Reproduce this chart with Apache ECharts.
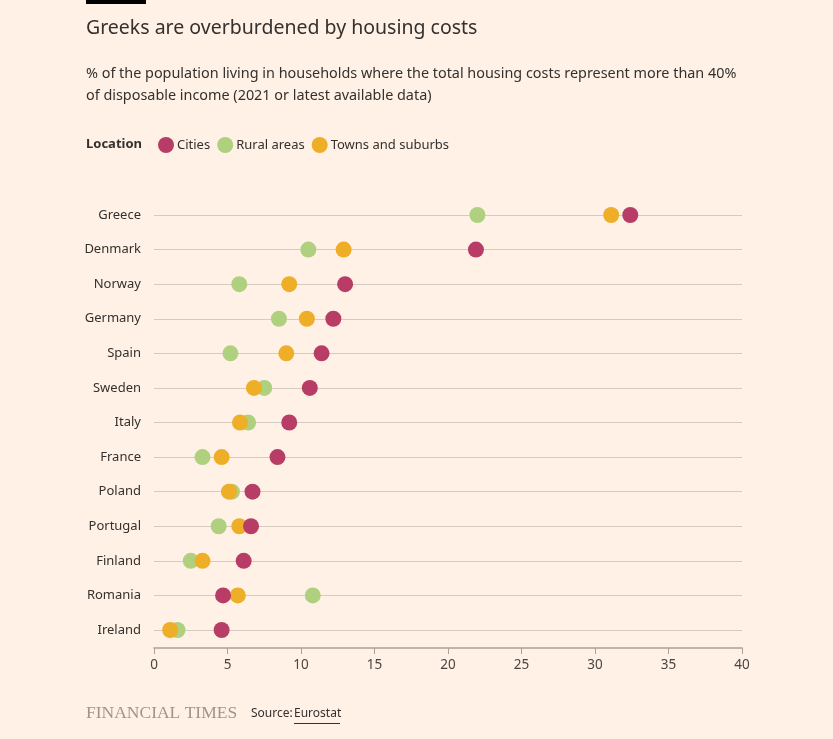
<!DOCTYPE html>
<html>
<head>
<meta charset="utf-8">
<script src="https://cdn.jsdelivr.net/npm/echarts@6/dist/echarts.min.js"></script>
<style>
html,body{margin:0;padding:0;background:#fff1e5;}
#chart{width:833px;height:739px;}
</style>
</head>
<body>
<div id="chart"></div>
<script>
const countries = ["Greece","Denmark","Norway","Germany","Spain","Sweden","Italy","France","Poland","Portugal","Finland","Romania","Ireland"];
const cities = [32.4,21.9,13.0,12.2,11.4,10.6,9.2,8.4,6.7,6.6,6.1,4.7,4.6];
const rural = [22.0,10.5,5.8,8.5,5.2,7.5,6.4,3.3,5.3,4.4,2.5,10.8,1.6];
const towns = [31.1,12.9,9.2,10.4,9.0,6.8,5.85,4.6,5.1,5.8,3.3,5.7,1.1];
const xTicks = [0,5,10,15,20,25,30,35,40];

const FONT = '"Noto Sans", sans-serif';
const C_CITIES = '#b83d66', C_RURAL = '#afd07f', C_TOWNS = '#eeae27';

const chart = echarts.init(document.getElementById('chart'));
function pts(arr){ return arr.map((v,i)=>[v,countries[i]]); }
chart.setOption({
  backgroundColor:'#fff1e5',
  animation:false,
  textStyle:{fontFamily:FONT},
  grid:{left:154,right:91,top:215,bottom:739-630,containLabel:false},
  legend:{
    left:153, top:132, icon:'circle', itemWidth:16, itemHeight:16, itemGap:7,
    data:['Cities','Rural areas','Towns and suburbs'],
    textStyle:{fontFamily:FONT,fontSize:13,color:'#33302e',padding:[0,0,0,-2]}
  },
  xAxis:{
    type:'value', min:xTicks[0], max:xTicks[xTicks.length-1], interval:5, offset:18,
    axisLine:{show:true,lineStyle:{color:'#a9a29c',width:1.5}},
    axisTick:{show:true,length:6,lineStyle:{color:'#a9a29c'}},
    axisLabel:{fontFamily:FONT,fontSize:13.5,color:'#4a4542',margin:10},
    splitLine:{show:false}
  },
  yAxis:{
    type:'category', data:countries, inverse:true, boundaryGap:false,
    axisLine:{show:false}, axisTick:{show:false},
    axisLabel:{fontFamily:FONT,fontSize:13,color:'#33302e',margin:13,interval:0},
    splitLine:{show:true,interval:0,lineStyle:{color:'#d6cbc2',width:1}}
  },
  series:[
    {name:'Rural areas',type:'scatter',symbolSize:16,data:pts(rural),itemStyle:{color:C_RURAL,opacity:1}},
    {name:'Towns and suburbs',type:'scatter',symbolSize:16,data:pts(towns),itemStyle:{color:C_TOWNS,opacity:1}},
    {name:'Cities',type:'scatter',symbolSize:16,data:pts(cities),itemStyle:{color:C_CITIES,opacity:1}}
  ],
  graphic:[
    {type:'rect',left:86,top:0,shape:{width:60,height:4},style:{fill:'#000'}},
    {type:'text',left:86,top:18,style:{text:'Greeks are overburdened by housing costs',font:'19.5px '+FONT,fill:'#33302e'}},
    {type:'text',left:86,top:63,style:{text:'% of the population living in households where the total housing costs represent more than 40%\nof disposable income (2021 or latest available data)',font:'14.4px '+FONT,fill:'#33302e',lineHeight:22}},
    {type:'text',left:86,top:138,style:{text:'Location',font:'bold 13px '+FONT,fill:'#33302e'}},
    {type:'text',left:86,top:704,style:{text:'FINANCIAL TIMES',font:'17.5px "Liberation Serif", "DejaVu Serif", serif',fill:'#9e958e'}},
    {type:'text',left:251,top:708,style:{text:'Source:',font:'12px '+FONT,fill:'#33302e'}},
    {type:'text',left:294,top:708,style:{text:'Eurostat',font:'12px '+FONT,fill:'#33302e'}},
    {type:'rect',left:294,top:723,shape:{width:46,height:1},style:{fill:'#33302e'}}
  ]
});
</script>
</body>
</html>
